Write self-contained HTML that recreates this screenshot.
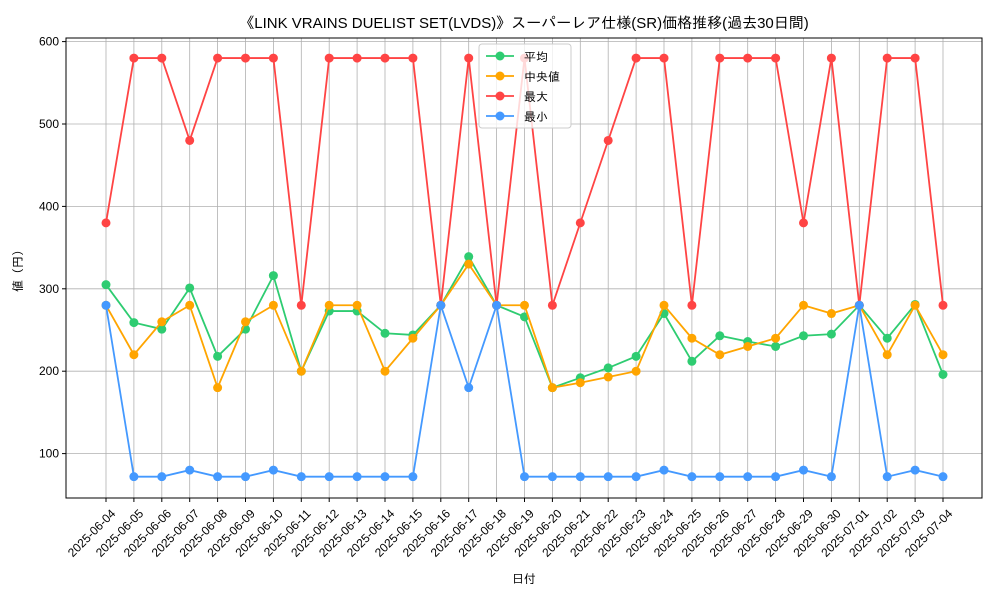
<!DOCTYPE html>
<html><head><meta charset="utf-8"><style>
body{margin:0;background:#fff}
svg text{font-family:"Liberation Sans","IPAGothic","Noto Sans CJK JP",sans-serif}
</style></head><body>
<svg id="c" width="1000" height="600" xmlns="http://www.w3.org/2000/svg">
<rect width="1000" height="600" fill="#fff"/>
<text x="524" y="28" text-anchor="middle" font-size="15" fill="#000">《LINK VRAINS DUELIST SET(LVDS)》スーパーレア仕様(SR)価格推移(過去30日間)</text>
<text x="0" y="0" transform="translate(22,268) rotate(-90)" text-anchor="middle" font-size="12">値（円）</text>
<text x="524" y="583" text-anchor="middle" font-size="12">日付</text>
<g id="grid"></g><g id="series"></g><g id="axes"></g>
</svg>
<script>
const dates=["2025-06-04","2025-06-05","2025-06-06","2025-06-07","2025-06-08","2025-06-09","2025-06-10","2025-06-11","2025-06-12","2025-06-13","2025-06-14","2025-06-15","2025-06-16","2025-06-17","2025-06-18","2025-06-19","2025-06-20","2025-06-21","2025-06-22","2025-06-23","2025-06-24","2025-06-25","2025-06-26","2025-06-27","2025-06-28","2025-06-29","2025-06-30","2025-07-01","2025-07-02","2025-07-03","2025-07-04"];
const avgValues=[305,259,251,301,218,251,316,200,273,273,246,244,280,339,280,266,180,192,204,218,270,212,243,236,230,243,245,280,240,281,196];
const medianValues=[280,220,260,280,180,260,280,200,280,280,200,240,280,330,280,280,180,186,193,200,280,240,220,230,240,280,270,280,220,280,220];
const maxValues=[380,580,580,480,580,580,580,280,580,580,580,580,280,580,280,580,280,380,480,580,580,280,580,580,580,380,580,280,580,580,280];
const minValues=[280,72,72,80,72,72,80,72,72,72,72,72,280,180,280,72,72,72,72,72,80,72,72,72,72,80,72,280,72,80,72];
const yTicks=[100,200,300,400,500,600];
const seriesNames=["平均","中央値","最大","最小"];
const NS="http://www.w3.org/2000/svg";
const L=66,R=982,T=38,B=498;
const x=i=>106+i*(943-106)/(dates.length-1);
const y=v=>536-v*0.824;
function mk(tag,attrs,parent){const e=document.createElementNS(NS,tag);for(const k in attrs)e.setAttribute(k,attrs[k]);parent.appendChild(e);return e;}
const grid=document.getElementById('grid'),axes=document.getElementById('axes'),ser=document.getElementById('series');
dates.forEach((d,i)=>{
  const g=mk('line',{x1:x(i),x2:x(i),y1:T,y2:B,stroke:'#b0b0b0','stroke-width':0.8},grid);
  
  mk('line',{x1:x(i),x2:x(i),y1:B,y2:B+4,stroke:'#000'},axes);
  const t=mk('text',{x:0,y:0,transform:`translate(${x(i)+4},${B+10}) rotate(-45)`,'text-anchor':'end','font-size':12,'dominant-baseline':'hanging'},axes);
  t.textContent=d;
  
});
yTicks.forEach(v=>{
  const g=mk('line',{x1:L,x2:R,y1:y(v),y2:y(v),stroke:'#b0b0b0','stroke-width':0.8},grid);
  
  mk('line',{x1:L-4,x2:L,y1:y(v),y2:y(v),stroke:'#000'},axes);
  const t=mk('text',{x:L-7,y:y(v)+4,'text-anchor':'end','font-size':12},axes);
  t.textContent=v;
  
});
const fr=mk('rect',{x:L,y:T,width:R-L,height:B-T,fill:'none',stroke:'#000','stroke-width':1},axes);

const all=[avgValues,medianValues,maxValues,minValues];
const colors=["#2ecc71","#ffa500","#ff4444","#4499ff"];
const snames=["series-average","series-median","series-max","series-min"];
all.forEach((vals,s)=>{
  const g=mk('g',{},ser);
  
  mk('polyline',{points:vals.map((v,i)=>x(i)+','+y(v)).join(' '),fill:'none',stroke:colors[s],'stroke-width':1.8},g);
  vals.forEach((v,i)=>{const c=mk('circle',{cx:x(i),cy:y(v),r:4.5,fill:colors[s]},g);
    });
});
const lg=mk('g',{},axes);

mk('rect',{x:479,y:44,width:92,height:84,rx:3,fill:'#fff','fill-opacity':0.8,stroke:'#ccc'},lg);
seriesNames.forEach((n,s)=>{
  const yy=56+s*20;
  const e=mk('g',{},lg);
  
  mk('line',{x1:486,x2:514,y1:yy,y2:yy,stroke:colors[s],'stroke-width':1.8},e);
  mk('circle',{cx:500,cy:yy,r:4.5,fill:colors[s]},e);
  const t=mk('text',{x:524,y:yy+5,'font-size':12},e);t.textContent=n;
});
</script>
</body></html>
